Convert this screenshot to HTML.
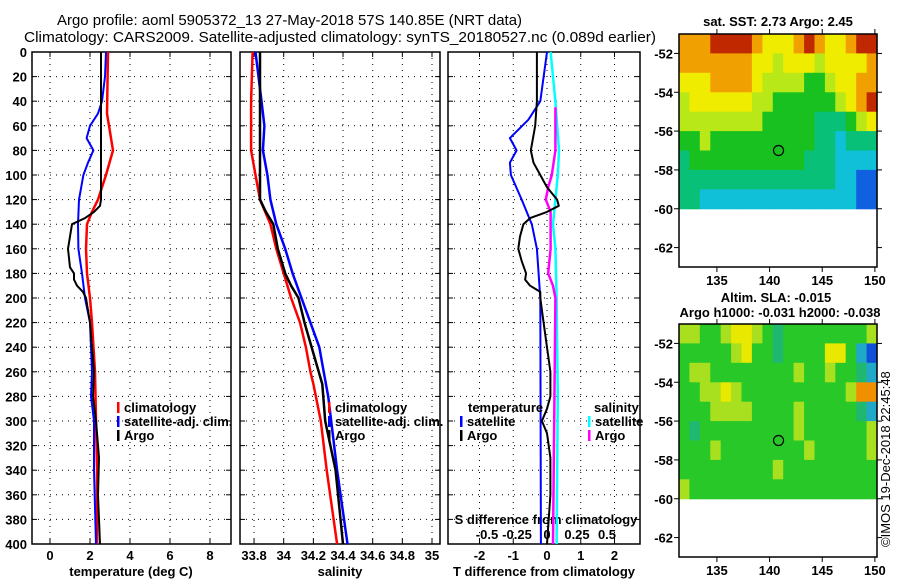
<!DOCTYPE html>
<html><head><meta charset="utf-8"><style>
html,body{margin:0;padding:0;background:#fff;}
svg{display:block;font-family:"Liberation Sans",Arial,sans-serif;}
.t{font-size:13px;font-weight:bold;fill:#000;}
</style></head><body>
<svg id="chart" width="900" height="580" viewBox="0 0 900 580">
<text x="57" y="25" font-size="15" textLength="465" lengthAdjust="spacingAndGlyphs">Argo profile: aoml 5905372_13 27-May-2018 57S 140.85E (NRT data)</text>
<text x="24" y="42" font-size="15" textLength="632" lengthAdjust="spacingAndGlyphs">Climatology: CARS2009. Satellite-adjusted climatology: synTS_20180527.nc (0.089d earlier)</text>
<g id="g"></g>
</svg>
<script>
// ---- data ----
const depthTicks=[0,20,40,60,80,100,120,140,160,180,200,220,240,260,280,300,320,340,360,380,400];
const tempTicks=[0,2,4,6,8];
const salTicks=[33.8,34,34.2,34.4,34.6,34.8,35];
const salTickLabels=["33.8","34","34.2","34.4","34.6","34.8","35"];
const tdTicks=[-2,-1,0,1,2];
const sdTicks=[-0.5,-0.25,0,0.25,0.5];
const sdTickLabels=["-0.5","-0.25","0","0.25","0.5"];

const climTDepth=[0,20,50,65,80,100,120,130,140,160,180,200,220,260,300,340,400];
const climT=[2.9,2.88,2.85,3.0,3.15,2.8,2.4,2.1,1.85,1.8,1.85,2.0,2.1,2.25,2.3,2.35,2.35];
const satTDepth=[0,20,40,50,60,70,80,90,100,120,140,160,180,200,220,260,280,300,340,400];
const satT=[2.8,2.75,2.6,2.4,2.0,1.83,2.17,1.9,1.67,1.45,1.4,1.42,1.6,1.75,2.0,2.1,2.05,2.2,2.2,2.3];
const argoTDepth=[0,60,120,125,130,135,140,145,160,175,180,185,190,195,200,220,240,260,280,300,330,360,400];
const argoT=[2.55,2.55,2.55,2.5,2.2,1.75,1.1,1.05,0.9,1.0,1.2,1.2,1.35,1.65,1.8,2.0,2.1,2.2,2.15,2.3,2.45,2.4,2.5];

const climSDepth=[0,40,80,100,120,140,160,180,200,220,240,260,270,300,340,400];
const climS=[33.79,33.78,33.78,33.81,33.84,33.91,33.95,34.0,34.05,34.11,34.15,34.18,34.2,34.25,34.29,34.36];
const satSDepth=[0,20,40,60,80,100,120,140,160,180,200,220,240,260,280,300,340,400];
const satS=[33.81,33.83,33.85,33.87,33.86,33.89,33.91,33.95,34.01,34.06,34.12,34.18,34.24,34.27,34.3,34.32,34.36,34.43];
const argoSDepth=[0,100,120,130,140,160,180,190,200,220,270,300,340,400];
const argoS=[33.84,33.84,33.84,33.88,33.93,33.96,34.01,34.05,34.1,34.14,34.26,34.28,34.35,34.4];

const satTdDepth=[0,40,55,70,80,90,100,120,140,160,200,400];
const satTd=[0,-0.2,-0.55,-1.1,-0.9,-1.1,-1.07,-0.75,-0.45,-0.3,-0.2,-0.18];
const argoTdDepth=[0,40,60,80,90,100,110,120,125,130,135,140,150,160,170,180,185,190,195,200,220,240,260,280,290,300,310,330,360,380,400];
const argoTd=[-0.3,-0.3,-0.35,-0.48,-0.4,-0.2,0,0.3,0.35,0,-0.5,-0.7,-0.8,-0.85,-0.75,-0.62,-0.65,-0.5,-0.2,-0.2,-0.1,0,0.1,0.1,0,-0.15,0,0.1,0.1,0.05,0];
const satSdDepth=[0,40,80,100,120,140,160,200,280,400];
const satSd=[0.03,0.07,0.1,0.09,0.07,0.05,0.07,0.08,0.09,0.08];
const argoSdDepth=[45,80,100,110,120,130,140,160,180,190,200,300,400];
const argoSd=[0.07,0.07,0.04,0.01,-0.01,0.03,0.03,0.03,0.01,0.05,0.07,0.06,0.05];

const sstGrid=[
[8,8,8,9,9,9,9,8,7,7,7,8,9,8,7,7,8,9,9],
[8,8,8,8,8,8,8,7,7,6,7,7,7,6,7,7,7,7,8],
[7,7,7,8,8,8,8,7,6,6,6,6,5,5,6,7,7,8,8],
[6,7,7,7,7,7,7,6,6,5,5,5,5,5,5,6,7,8,9],
[6,6,6,6,6,6,6,6,5,5,5,5,5,4,4,4,5,6,7],
[5,5,6,5,5,5,5,5,5,5,5,5,5,4,4,3,4,4,4],
[4,5,5,5,5,5,5,5,5,5,5,5,4,4,4,3,3,3,3],
[4,4,4,4,4,4,4,4,4,4,4,4,4,4,4,3,3,2,2],
[4,4,3,3,3,3,3,3,3,3,3,3,3,3,3,3,3,2,2]];
const slaGrid=[
[6,6,5,5,6,7,7,6,5,4,5,5,5,5,5,5,5,5,6],
[5,5,5,5,5,6,7,5,5,4,5,5,5,5,7,7,5,3,2],
[5,6,6,5,5,5,5,5,5,5,5,6,5,5,6,5,5,4,3],
[5,5,6,6,7,6,5,5,5,5,5,5,5,5,5,5,6,8,8],
[5,5,5,6,6,6,6,5,5,5,5,6,5,5,5,5,5,4,3],
[5,4,5,5,5,5,5,5,5,5,5,6,5,5,5,5,5,5,6],
[5,5,5,6,5,5,5,5,5,5,5,5,6,5,5,5,5,5,6],
[5,5,5,5,5,5,5,5,5,6,5,5,5,5,5,5,5,5,5],
[6,5,5,5,5,5,5,5,5,5,5,5,5,5,5,5,5,5,5]];
const latTicks=[-52,-54,-56,-58,-60,-62];
const lonTicks=[135,140,145,150];
const argoLon=[140.85], argoLat=[-57];

// ---- drawing ----
const NS="http://www.w3.org/2000/svg";
const G=document.getElementById('g');
function el(tag,attrs,parent){const e=document.createElementNS(NS,tag);for(const k in attrs)e.setAttribute(k,attrs[k]);(parent||G).appendChild(e);return e;}
function txt(x,y,s,anchor,cls,parent){const e=el('text',{x:x,y:y,'text-anchor':anchor||'start','class':cls||'t'},parent);e.textContent=s;return e;}
const yTop=52,yBot=544;
const yD=d=>yTop+(yBot-yTop)*d/400;
const xT=v=>50+20*v;
const xS=v=>283.7+148.3*(v-34);
const xTd=v=>547+33.75*v;
const xSd=v=>547+120*v;
const panels=[[32,231],[240,440],[448,640]];

function panelFrame(x0,x1,vgrid,name){
  const g=el('g',{});
  
  
  depthTicks.forEach(d=>{ if(d>0&&d<400){el('line',{x1:x0,x2:x1,y1:yD(d),y2:yD(d),stroke:'#000','stroke-width':1,'stroke-dasharray':'1,5'},g);}
    el('line',{x1:x0,x2:x0+5,y1:yD(d),y2:yD(d),stroke:'#000'},g);el('line',{x1:x1-5,x2:x1,y1:yD(d),y2:yD(d),stroke:'#000'},g);});
  vgrid.forEach(x=>{el('line',{x1:x,x2:x,y1:yTop,y2:yBot,stroke:'#000','stroke-dasharray':'1,5'},g);
    el('line',{x1:x,x2:x,y1:yTop,y2:yTop+5,stroke:'#000'},g);el('line',{x1:x,x2:x,y1:yBot-5,y2:yBot,stroke:'#000'},g);});
  el('rect',{x:x0,y:yTop,width:x1-x0,height:yBot-yTop,fill:'none',stroke:'#000','stroke-width':1.5},g);
  return g;
}
const p1=panelFrame(32,231,tempTicks.map(xT),'temperature-panel');
const p2=panelFrame(240,440,salTicks.map(xS),'salinity-panel');
const p3=panelFrame(448,640,tdTicks.map(xTd),'difference-panel');

depthTicks.forEach(d=>{const t=txt(27,yD(d)+5,String(d),'end');

});
tempTicks.forEach(v=>{const t=txt(xT(v),560,String(v),'middle');

});
salTicks.forEach((v,i)=>{const t=txt(xS(v),560,salTickLabels[i],'middle');

});
tdTicks.forEach(v=>{const t=txt(xTd(v),560,String(v),'middle');

});
sdTicks.forEach((v,i)=>{const t=txt(xSd(v),539,sdTickLabels[i],'middle');

});
let t;
t=txt(131,576,'temperature (deg C)','middle');
t=txt(340,576,'salinity','middle');
t=txt(544,576,'T difference from climatology','middle');
t=txt(546,524,'S difference from climatology','middle');

function series(depths,vals,xf,color,w,name){
  const pts=depths.map((d,i)=>xf(vals[i]).toFixed(1)+','+yD(d).toFixed(1)).join(' ');
  const p=el('polyline',{points:pts,fill:'none',stroke:color,'stroke-width':w,'stroke-linejoin':'round'});
  
  
}
series(climTDepth,climT,xT,'#f00',2.5,'climatology-temperature-line');
series(satTDepth,satT,xT,'#00f',2,'satellite-temperature-line');
series(argoTDepth,argoT,xT,'#000',2,'argo-temperature-line');
series(climSDepth,climS,xS,'#f00',2.5,'climatology-salinity-line');
series(satSDepth,satS,xS,'#00f',2.5,'satellite-salinity-line');
series(argoSDepth,argoS,xS,'#000',2.5,'argo-salinity-line');
series(satSdDepth,satSd,xSd,'#0ff',2.5,'satellite-s-diff-line');
series(argoSdDepth,argoSd,xSd,'#f0f',2.5,'argo-s-diff-line');
series(satTdDepth,satTd,xTd,'#00f',2,'satellite-t-diff-line');
series(argoTdDepth,argoTd,xTd,'#000',2,'argo-t-diff-line');

function legend(x,y,color,label,name){
  const g=el('g',{});
  
  
  el('rect',{x:x,y:y-10,width:2.5,height:11,fill:color},g);
  txt(x+7,y,label,'start','t',g);
}
legend(117,412,'#f00','climatology','legend-climatology');
legend(117,426,'#00f','satellite-adj. clim.','legend-satellite-adj');
legend(117,440,'#000','Argo','legend-argo');
legend(328,412,'#f00','climatology','legend-climatology-sal');
legend(328,426,'#00f','satellite-adj. clim.','legend-satellite-adj-sal');
legend(328,440,'#000','Argo','legend-argo-sal');
t=txt(468,412,'temperature');
legend(460,426,'#00f','satellite','legend-t-satellite');
legend(460,440,'#000','Argo','legend-t-argo');
t=txt(594,412,'salinity');
legend(588,426,'#0ff','satellite','legend-s-satellite');
legend(588,440,'#f0f','Argo','legend-s-argo');

// maps
const pal=['#000080','#0018a0','#1060e0','#10c0d8','#08c078','#18c020','#b8e818','#f0ec00','#f0a000','#c02800'];
const palSla=['#000080','#0018a0','#1050d8','#20a8c8','#20b870','#28c828','#a8e020','#e8e800','#f09000','#c02800'];
function map(top,grid,p,name){
  const x0=679,x1=877,lon0=131.4,lon1=150.2,lat0=-51.0,lat1=-63.0;
  const xL=l=>x0+(x1-x0)*(l-lon0)/(lon1-lon0);
  const yL=l=>top+(233)*(lat0-l)/(lat0-lat1);
  const g=el('g',{});
  
  
  grid.forEach((row,r)=>row.forEach((v,c)=>{
    const la=-51-r, lo=lon0+c*(lon1-lon0)/row.length;
    const cell=el('rect',{x:xL(lo).toFixed(1),y:yL(la).toFixed(1),width:((x1-x0)/row.length+0.6).toFixed(1),height:(yL(la-1)-yL(la)+0.6).toFixed(1),fill:p[v]},g);
    
    
  }));
  el('rect',{x:x0,y:top,width:x1-x0,height:233,fill:'none',stroke:'#000','stroke-width':1.5},g);
  latTicks.forEach(l=>{el('line',{x1:x0,x2:x0-5,y1:yL(l),y2:yL(l),stroke:'#000'},g);el('line',{x1:x1,x2:x1+5,y1:yL(l),y2:yL(l),stroke:'#000'},g);
    txt(673,yL(l)+5,String(l),'end','t',g);});
  lonTicks.forEach(l=>{el('line',{x1:xL(l),x2:xL(l),y1:top,y2:top-5,stroke:'#000'},g);el('line',{x1:xL(l),x2:xL(l),y1:top+233,y2:top+238,stroke:'#000'},g);
    txt(xL(l),top+251,String(l),'middle','t',g);});
  const c=el('circle',{cx:xL(argoLon[0]),cy:yL(argoLat[0]),r:5,fill:'none',stroke:'#000','stroke-width':1.2},g);
  
  
}
map(34,sstGrid,pal,'sst-map');
map(324,slaGrid,palSla,'sla-map');
t=txt(778,26,'sat. SST: 2.73 Argo: 2.45','middle');
t=txt(776,302,'Altim. SLA: -0.015','middle');
t=txt(780,317,'Argo h1000: -0.031 h2000: -0.038','middle');
t=el('text',{x:0,y:0,'font-size':13,transform:'translate(890,547) rotate(-90)'});
t.textContent='©IMOS 19-Dec-2018 22:45:48';


</script>
</body></html>
